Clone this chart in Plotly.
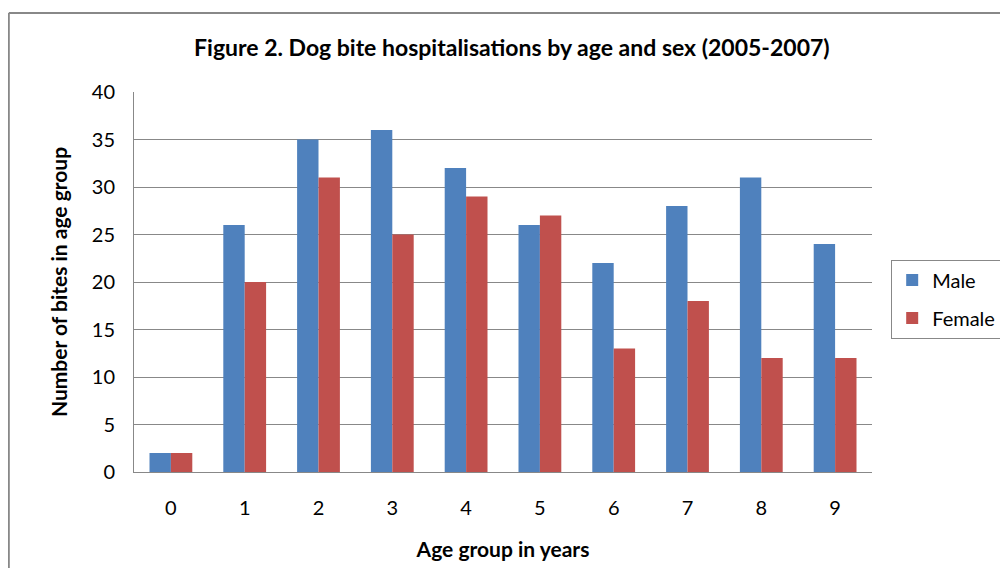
import plotly.graph_objects as go

ages = ["0", "1", "2", "3", "4", "5", "6", "7", "8", "9"]
male = [2, 26, 35, 36, 32, 26, 22, 28, 31, 24]
female = [2, 20, 31, 25, 29, 27, 13, 18, 12, 12]

FONT = "Lato"

fig = go.Figure()
fig.add_trace(go.Bar(x=ages, y=male, name="Male", legendgroup="m",
                     marker=dict(color="#4F81BD", line=dict(width=0))))
fig.add_trace(go.Bar(x=ages, y=female, name="Female", legendgroup="f",
                     marker=dict(color="#C0504D", line=dict(width=0))))

fig.update_layout(
    width=1000, height=560,
    margin=dict(l=126, r=136, t=84, b=96, autoexpand=False),
    paper_bgcolor="white", plot_bgcolor="white",
    barmode="group", bargap=0.42, bargroupgap=0,
    font=dict(family=FONT, color="#000000", size=20),
    title=dict(text="<b>Figure 2. Dog bite hospitalisations by age and sex (2005-2007)</b>",
               xref="paper", x=0.512, xanchor="center", y=0.929, yanchor="middle",
               font=dict(family=FONT, size=23, color="#000")),
    showlegend=True,
    legend=dict(x=1.026, xanchor="left", y=0.455, yanchor="middle",
                bordercolor="#888888", borderwidth=1, bgcolor="white",
                traceorder="grouped", tracegroupgap=9,
                font=dict(family=FONT, size=20), itemwidth=30),
    xaxis=dict(showgrid=False, showline=True, linecolor="#888888", linewidth=1,
               ticks="", tickfont=dict(size=20), ticklabelstandoff=18,
               title=dict(text="<b>Age group in years</b>", font=dict(size=21), standoff=24)),
    yaxis=dict(range=[0, 40], dtick=5, showgrid=True, gridcolor="#888888", gridwidth=1,
               showline=True, linecolor="#888888", linewidth=1, zeroline=False,
               ticks="", tickfont=dict(size=20), ticklabelstandoff=14,
               title=dict(text="<b>Number of bites in age group</b>", font=dict(size=21), standoff=18)),
)

# outer chart frame
XL = (0.8 - 126) / 738
YT = 1 + (84 - 5) / 380
fig.add_shape(type="line", xref="paper", yref="paper",
              x0=XL, x1=1.3, y0=YT, y1=YT,
              line=dict(color="#888888", width=2))
fig.add_shape(type="line", xref="paper", yref="paper",
              x0=XL, x1=XL, y0=YT, y1=-0.4,
              line=dict(color="#888888", width=2))

fig.write_html("out.html")
